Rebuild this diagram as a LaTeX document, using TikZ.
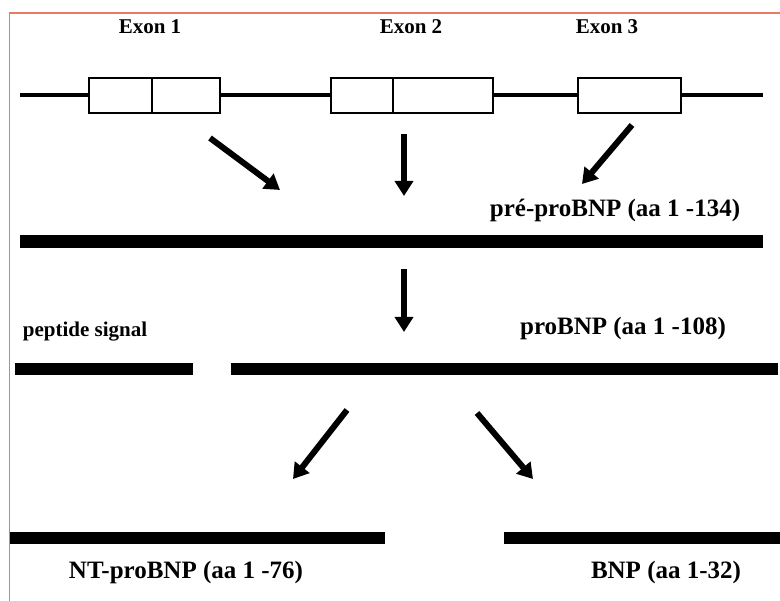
\documentclass[tikz,border=0pt]{standalone}
\usepackage{fontspec}
\setmainfont{Liberation Serif}
\usetikzlibrary{arrows.meta}
\definecolor{frame}{RGB}{235,120,100}
\tikzset{
  exonbox/.style={draw=black, line width=1.5pt, fill=white, minimum height=35pt, inner sep=0pt},
  gene/.style={line width=4pt},
  bar/.style={fill=black, inner sep=0pt, minimum height=12pt},
  flow/.style={line width=6pt, -{Triangle[width=18pt,length=15pt]}},
  biglabel/.style={font=\fontsize{25}{29}\selectfont\bfseries, inner sep=0pt},
  smalllabel/.style={font=\fontsize{21}{25}\selectfont\bfseries, inner sep=0pt}
}
\begin{document}
\begin{tikzpicture}[x=1pt,y=-1pt]
\useasboundingbox (0,0) rectangle (780,601);
% frame
\draw[frame, line width=1.2pt] (9.5,601) -- (9.5,13) -- (780,13);

% exon labels
\node[smalllabel] (lx1) at (150,27) {Exon 1};
\node[smalllabel] (lx2) at (411,27) {Exon 2};
\node[smalllabel] (lx3) at (607,27) {Exon 3};

% gene
\coordinate (gs) at (20,95.5);
\coordinate (ge) at (763,95.5);
\node[exonbox, minimum width=131pt] (e1) at (154.5,95.5) {};
\node[exonbox, minimum width=162pt] (e2) at (412,95.5) {};
\node[exonbox, minimum width=103pt] (e3) at (629.5,95.5) {};
\draw[line width=1.5pt] (152,78) -- (152,113);
\draw[line width=1.5pt] (393,78) -- (393,113);
\draw[gene] (gs) -- (e1.west);
\draw[gene] (e1.east) -- (e2.west);
\draw[gene] (e2.east) -- (e3.west);
\draw[gene] (e3.east) -- (ge);

% arrows to pre-proBNP
\coordinate (a1s) at (210,138);
\coordinate (a1e) at (280,190);
\coordinate (a2s) at (404,134);
\coordinate (a2e) at (404,196);
\coordinate (a3s) at (632,125);
\coordinate (a3e) at (582,184);
\draw[flow] (a1s) -- (a1e);
\draw[flow] (a2s) -- (a2e);
\draw[flow] (a3s) -- (a3e);

\node[biglabel] (lpre) at (615,210) {pré-proBNP (aa 1 -134)};
\node[bar, minimum width=743pt, minimum height=13pt] (bpre) at (391.5,242) {};

% arrow to proBNP
\coordinate (a4s) at (404,269);
\coordinate (a4e) at (404,332);
\draw[flow] (a4s) -- (a4e);

\node[smalllabel] (lsig) at (85,332) {peptide signal};
\node[biglabel] (lpro) at (623,328) {proBNP (aa 1 -108)};
\node[bar, minimum width=178pt] (bsig) at (104,369) {};
\node[bar, minimum width=547pt] (bpro) at (504.5,369) {};

% arrows to products
\coordinate (a5s) at (347,410);
\coordinate (a5e) at (293,479);
\coordinate (a6s) at (477,413);
\coordinate (a6e) at (533,479);
\draw[flow] (a5s) -- (a5e);
\draw[flow] (a6s) -- (a6e);

\node[bar, minimum width=375pt] (bnt) at (197.5,538) {};
\node[bar, minimum width=276pt] (bbnp) at (642,538) {};
\node[biglabel] (lnt) at (186,572) {NT-proBNP (aa 1 -76)};
\node[biglabel] (lbnp) at (666,572) {BNP (aa 1-32)};
\end{tikzpicture}
\end{document}
